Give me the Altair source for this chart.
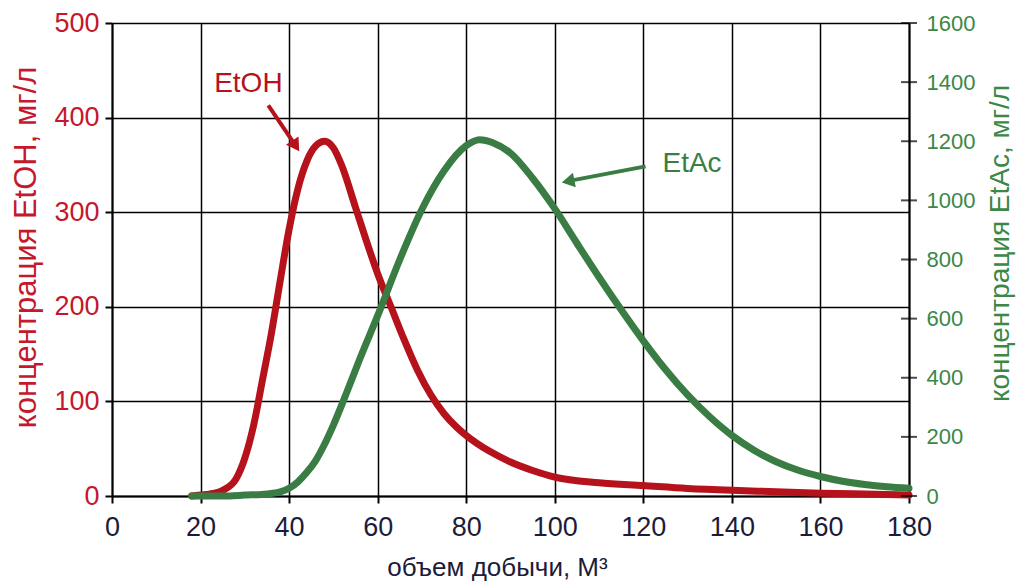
import altair as alt
import pandas as pd

# --- data ---
etoh_x = [18, 20, 22, 25, 28, 30, 32, 34, 36, 38, 40, 42, 44, 46, 48, 50, 52, 55, 58, 60, 63, 66, 69,
          72, 75, 78, 80, 85, 90, 95, 100, 110, 120, 130, 140, 150, 160, 170, 180]
etoh_y = [0, 1, 2, 6, 18, 40, 75, 123, 172, 228, 282, 325, 354, 370, 375, 368, 348, 305, 262, 235, 200, 165, 133,
          107, 87, 72, 64, 48, 36, 27, 20, 14, 11, 8, 6, 4.5, 3, 2, 1]

etac_x = [18, 25, 30, 35, 38, 40, 42, 44, 46, 48, 50, 53, 56, 60, 65, 70, 75, 80, 83, 86, 90, 95, 100,
          105, 110, 115, 120, 125, 130, 135, 140, 145, 150, 155, 160, 165, 170, 175, 180]
etac_y = [0, 0, 3, 7, 14, 26, 48, 80, 120, 175, 240, 350, 465, 610, 800, 970, 1100, 1185, 1205, 1195, 1160, 1075, 972,
          855, 740, 630, 525, 428, 342, 268, 205, 155, 116, 87, 66, 50, 39, 31, 26]

right_ticks = [0, 200, 400, 600, 800, 1000, 1200, 1400, 1600]

# annotation labels and arrows (data units)
etoh_label = {"x": 30.8, "y": 435, "text": "EtOH"}
etoh_arrow_x = [35.3, 41.5]
etoh_arrow_y = [413, 370]
etac_label = {"x": 131.0, "y": 1123, "text": "EtAc"}
etac_arrow_x = [120.5, 103.0]
etac_arrow_y = [1115, 1065]

RED = "#b5121b"
RED_TXT = "#c4182c"
GREEN = "#3a7d44"
GREEN_TXT = "#3b8746"
FONT = "Liberation Sans"

W, H = 797, 473
X_TITLE = "объем добычи, М³"
YL_TITLE = "концентрация EtOH, мг/л"
YR_TITLE = "концентрация EtAc, мг/л"

xscale = alt.Scale(domain=[0, 180], nice=False)
yl_scale = alt.Scale(domain=[0, 500], nice=False)
yr_scale = alt.Scale(domain=[0, 1600], nice=False)

df_etoh = pd.DataFrame({"x": etoh_x, "y": etoh_y})
df_etac = pd.DataFrame({"x": etac_x, "y": etac_y})

x_axis = alt.Axis(values=list(range(0, 181, 20)), grid=True, gridColor="black", gridWidth=1.5,
                  domainColor="black", domainWidth=2, tickColor="black", tickWidth=2, tickSize=7,
                  labelFont=FONT, labelFontSize=27, labelColor="#1c1c3a", labelPadding=11,
                  labelFlush=False,
                  title=X_TITLE, titleFont=FONT, titleFontSize=26, titleX=385, titleAlign="center",
                  titleFontWeight="normal", titleColor="#1c1c3a", titlePadding=14)

yl_axis = alt.Axis(values=list(range(0, 501, 100)), grid=True, gridColor="black", gridWidth=1.5,
                   domainColor="black", domainWidth=2, tickColor="black", tickWidth=2, tickSize=7,
                   labelFont=FONT, labelFontSize=27, labelColor=RED_TXT, labelPadding=6,
                   labelFlush=False,
                   title=YL_TITLE, titleFont=FONT, titleFontSize=31, titleY=224,
                   titleFontWeight="normal", titleColor=RED_TXT, titlePadding=11)

yr_axis = alt.Axis(values=right_ticks, grid=False, orient="right", format="d",
                   domainColor="black", domainWidth=2, ticks=False, labelFlush=False,
                   labelFont=FONT, labelFontSize=22, labelColor=GREEN_TXT, labelPadding=17,
                   title=YR_TITLE, titleFont=FONT, titleFontSize=28, titleY=220,
                   titleFontWeight="normal", titleColor=GREEN_TXT, titlePadding=12,
                   titleAngle=-90, titleBaseline="top")


def enc_l(ch):
    return ch.encode(
        x=alt.X("x:Q", scale=xscale, axis=x_axis, title=X_TITLE),
        y=alt.Y("y:Q", scale=yl_scale, axis=yl_axis, title=YL_TITLE),
    )


def enc_r(ch):
    return ch.encode(
        x=alt.X("x:Q", scale=xscale, axis=x_axis, title=X_TITLE),
        y=alt.Y("y:Q", scale=yr_scale, axis=yr_axis, title=YR_TITLE),
    )


red_line = enc_l(alt.Chart(df_etoh).mark_line(color=RED, strokeWidth=7, interpolate="monotone",
                                               strokeCap="round"))
etoh_text = enc_l(alt.Chart(pd.DataFrame([etoh_label])).mark_text(
    color=RED, font=FONT, fontSize=28)).encode(text="text:N")
etoh_arrow = enc_l(alt.Chart(pd.DataFrame({"x": etoh_arrow_x, "y": etoh_arrow_y})).mark_line(
    color=RED, strokeWidth=4))
etoh_head = enc_l(alt.Chart(pd.DataFrame({"x": etoh_arrow_x[-1:], "y": etoh_arrow_y[-1:]})).mark_point(
    shape="triangle-up", filled=True, opacity=1, color=RED, size=220, angle=147))

left = alt.layer(red_line, etoh_arrow, etoh_head, etoh_text)

green_line = enc_r(alt.Chart(df_etac).mark_line(color=GREEN, strokeWidth=7, interpolate="monotone",
                                                 strokeCap="round"))
etac_text = enc_r(alt.Chart(pd.DataFrame([etac_label])).mark_text(
    color=GREEN, font=FONT, fontSize=28)).encode(text="text:N")
etac_arrow = enc_r(alt.Chart(pd.DataFrame({"x": etac_arrow_x, "y": etac_arrow_y})).mark_line(
    color=GREEN, strokeWidth=4))
etac_head = enc_r(alt.Chart(pd.DataFrame({"x": etac_arrow_x[-1:], "y": etac_arrow_y[-1:]})).mark_point(
    shape="triangle-up", filled=True, opacity=1, color=GREEN, size=220, angle=259))
rticks = alt.Chart(pd.DataFrame({"y": right_ticks})).mark_tick(
    orient="horizontal", color="black", thickness=2, size=16).encode(
    x=alt.value(W),
    y=alt.Y("y:Q", scale=yr_scale, axis=yr_axis, title=YR_TITLE),
)

right = alt.layer(green_line, etac_arrow, etac_head, etac_text, rticks)

chart = alt.layer(left, right).resolve_scale(y="independent").properties(
    width=W, height=H,
    autosize=alt.AutoSizeParams(type="none"),
    padding={"left": 112, "top": 23, "right": 110, "bottom": 91},
    background="white",
).configure_view(stroke=None)

chart.save("out.html", embed_options={"renderer": "svg", "actions": False})
